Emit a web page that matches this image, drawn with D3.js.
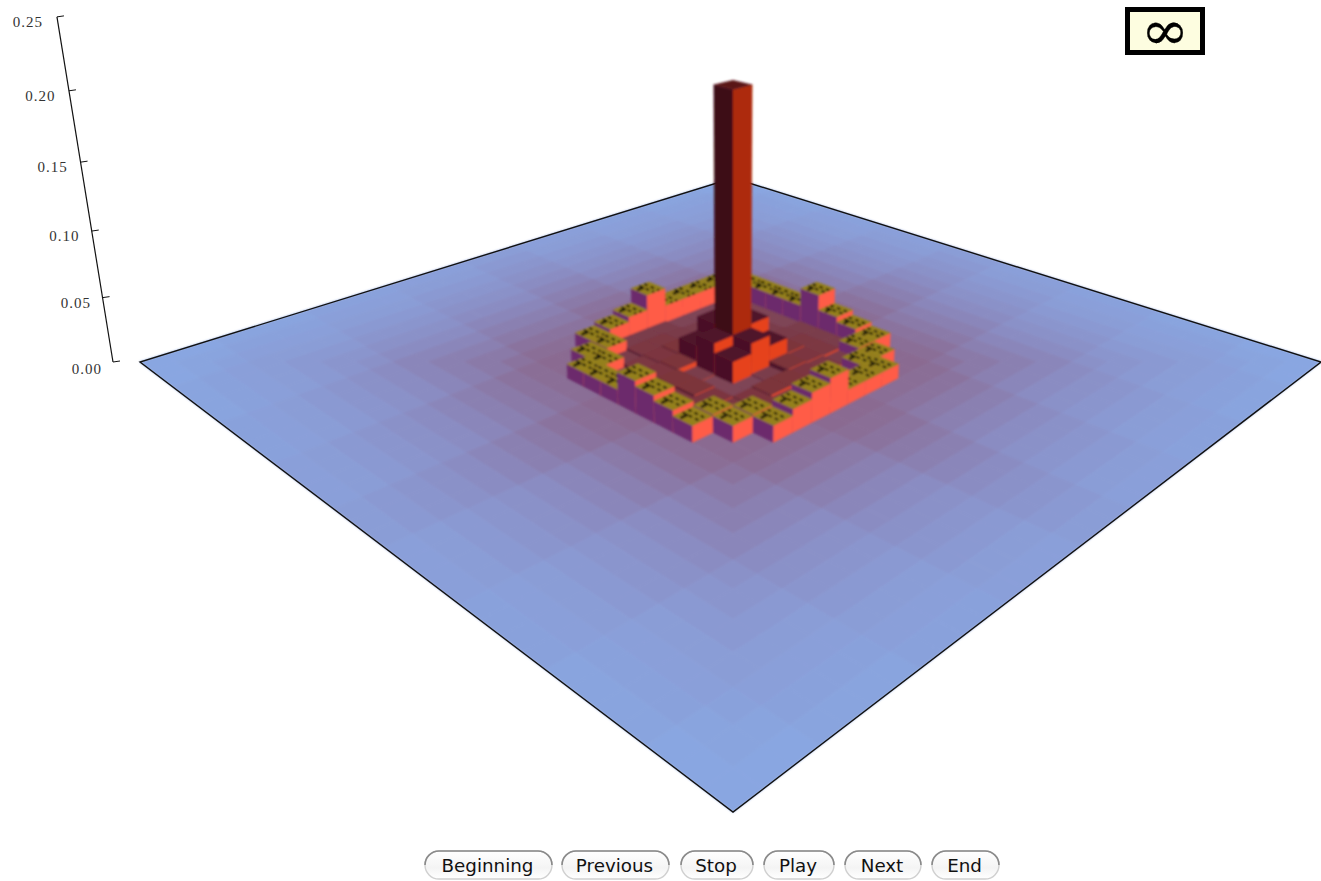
<!DOCTYPE html>
<html>
<head>
<meta charset="utf-8">
<script src="https://cdn.jsdelivr.net/npm/d3@7"></script>
<style>
  html, body { margin: 0; background: #fff; }
  svg { display: block; }
  .zlabel { font-family: "Liberation Serif", serif; font-size: 15px; letter-spacing: 1px; fill: #333; text-anchor: end; }
  .btnlabel { font-family: "DejaVu Sans", sans-serif; font-size: 18.3px; fill: #111; text-anchor: middle; }
</style>
</head>
<body>
<svg id="chart" width="1321" height="881"></svg>
<script>
// --- Data ---
const gridSize = 33;
const zTicks = [0, 0.05, 0.10, 0.15, 0.20, 0.25];

// floor level (x 1e-3) by stepped distance from the centre cell, 0..20
const floorLevels = [3.0, 3.0, 3.0, 3.0, 3.0, 2.7, 2.55, 2.4, 2.2, 1.95, 1.7, 1.45, 1.2, 1.0, 0.85, 0.68, 0.52, 0.4, 0.28, 0.16, 0.05];

// column heights (x 1e-3) for the middle block, i = -5..5 by row, j = -5..5 by column
const heightRows = [
  [ 0, 16, 16, 16, 16, 30, 18, 14, 11,  0,  0],
  [16,  2,  2,  2,  2,  3,  3,  3, 11, 10,  0],
  [16,  2,  3,  3,  3,  4,  5,  5,  3, 10, 11],
  [16,  2,  3,  5,  6,  6,  7,  6,  5,  2, 11],
  [16,  2,  3,  6, 30, 30, 19,  7,  6,  3, 11],
  [30,  3,  4,  6, 30,205, 27,  3,  7,  4, 24],
  [18,  3,  5,  7, 19, 27, 19,  2,  7,  5, 20],
  [14,  3,  5,  6,  7,  3,  2,  2,  6,  6, 16],
  [11, 11,  3,  5,  6,  7,  7,  6,  5, 13, 12],
  [ 0, 10, 10,  2,  3,  4,  5,  6, 13, 12,  0],
  [ 0,  0, 11, 11, 11, 26, 22, 17, 12,  0,  0]
];
const blockRadius = 5;

const buttonLabels = ["Beginning", "Previous", "Stop", "Play", "Next", "End"];
const buttonEdges = [[425, 552], [562, 669], [681, 753], [764, 834], [845, 921], [932, 999]];

// --- Layout constants ---
const corners = { top: [733, 178], right: [1321, 362], bottom: [733, 812], left: [140, 362] };
const zVanish = [733, 4180];
const axisFoot = [113, 362];
const zTopShift = -0.0829;   // w shift at the top of the z axis

// --- Projection: plane homography plus a vertical vanishing point ---
function quadHomography(p0, p1, p2, p3) {
  const dx1 = p1[0] - p2[0], dx2 = p3[0] - p2[0], sx = p0[0] - p1[0] + p2[0] - p3[0];
  const dy1 = p1[1] - p2[1], dy2 = p3[1] - p2[1], sy = p0[1] - p1[1] + p2[1] - p3[1];
  const det = dx1 * dy2 - dx2 * dy1;
  const g = (sx * dy2 - dx2 * sy) / det;
  const h = (dx1 * sy - sx * dy1) / det;
  return [p1[0] - p0[0] + g * p1[0], p3[0] - p0[0] + h * p3[0], p0[0],
          p1[1] - p0[1] + g * p1[1], p3[1] - p0[1] + h * p3[1], p0[1], g, h];
}

const H = quadHomography(corners.top, corners.right, corners.bottom, corners.left);
const half = gridSize / 2;
const u = d3.scaleLinear().domain([-half, half]).range([0, 1]);
const v = d3.scaleLinear().domain([-half, half]).range([0, 1]);
const wLeft = H[7] + 1;
const zShift = d3.scaleLinear().domain([0, 0.25]).range([0, zTopShift * wLeft]);

function project(i, j, z) {
  const a = u(i), b = v(j);
  const X = H[0] * a + H[1] * b + H[2];
  const Y = H[3] * a + H[4] * b + H[5];
  const W = H[6] * a + H[7] * b + 1;
  const k = zShift(z || 0);
  return [(X + k * zVanish[0]) / (W + k), (Y + k * zVanish[1]) / (W + k)];
}

function axisPoint(z) {
  const a = zTopShift * z / 0.25;
  return [(axisFoot[0] + a * zVanish[0]) / (1 + a), (axisFoot[1] + a * zVanish[1]) / (1 + a)];
}

// --- Colours ---
const floorColor = d3.scaleLinear()
  .domain([0, 0.6, 1.2, 1.8, 2.4, 3.0])
  .range(["#89a7e2", "#8a9bd4", "#8a8cc2", "#8a7eae", "#8a6e96", "#8a5f80"]);
const lowTop = d3.scaleLinear().domain([0, 3, 8]).range(["#85566e", "#7a3c4c", "#7c3236"]);
const lowRight = d3.scaleLinear().domain([0, 3, 8]).range(["#8a5066", "#c4442e", "#f04c2a"]);
const lowLeft = d3.scaleLinear().domain([0, 3, 8]).range(["#6e3a52", "#5a2438", "#4a1428"]);

function heightAt(i, j) {
  if (Math.abs(i) > blockRadius || Math.abs(j) > blockRadius) return 0;
  return heightRows[i + blockRadius][j + blockRadius];
}

function floorAt(i, j) {
  const a = Math.abs(i), b = Math.abs(j);
  const d = Math.round(Math.max(a, b) + 0.25 * Math.min(a, b));
  return floorLevels[Math.min(d, floorLevels.length - 1)];
}

function palette(i, j, h) {
  const ring = Math.max(Math.abs(i), Math.abs(j)) >= 3 && h >= 10;
  if (h > 100) return { top: "#5a1418", left: "#3d0a14", right: "#ad2a10", kind: "tower" };
  if (ring) return { top: "#94801c", left: "#6c2c6c", right: "#ff5c46", kind: "ring" };
  if (h >= 10) return { top: "#50162a", left: "#4a0e26", right: "#e6431f", kind: "step" };
  return { top: lowTop(h), left: lowLeft(h), right: lowRight(h), kind: "low" };
}

// --- SVG setup ---
const svg = d3.select("#chart");
const defs = svg.append("defs");
defs.append("filter").attr("id", "soft")
  .attr("x", "-5%").attr("y", "-5%").attr("width", "110%").attr("height", "110%")
  .append("feGaussianBlur").attr("stdDeviation", 0.8);
defs.append("filter").attr("id", "softFloor")
  .attr("x", "-2%").attr("y", "-2%").attr("width", "104%").attr("height", "104%")
  .append("feGaussianBlur").attr("stdDeviation", 0.9);
const btnGrad = defs.append("linearGradient").attr("id", "btnFill")
  .attr("x1", 0).attr("y1", 0).attr("x2", 0).attr("y2", 1);
btnGrad.append("stop").attr("offset", "0%").attr("stop-color", "#ffffff");
btnGrad.append("stop").attr("offset", "60%").attr("stop-color", "#f4f4f4");
btnGrad.append("stop").attr("offset", "100%").attr("stop-color", "#ffffff");

const polyPath = pts => "M" + pts.map(p => p[0].toFixed(2) + "," + p[1].toFixed(2)).join("L") + "Z";

// --- Floor ---
const range = d3.range(-Math.floor(half), Math.floor(half) + 1);
const floorCells = [];
range.forEach(i => range.forEach(j => floorCells.push({ i, j })));

const floorGroup = svg.append("g").attr("filter", "url(#softFloor)");
floorGroup.selectAll("path")
  .data(floorCells)
  .join("path")
  .attr("d", d => polyPath([
    project(d.i - .5, d.j - .5), project(d.i + .5, d.j - .5),
    project(d.i + .5, d.j + .5), project(d.i - .5, d.j + .5)]))
  .attr("fill", d => floorColor(floorAt(d.i, d.j)))
  .attr("stroke", d => floorColor(floorAt(d.i, d.j)))
  .attr("stroke-width", 1);

svg.append("path")
  .attr("d", polyPath([corners.top, corners.right, corners.bottom, corners.left]))
  .attr("fill", "none")
  .attr("stroke", "#111")
  .attr("stroke-width", 1.4);

// --- Columns, painted back to front ---
const columns = [];
d3.range(-blockRadius, blockRadius + 1).forEach(i => {
  d3.range(-blockRadius, blockRadius + 1).forEach(j => {
    const h = heightAt(i, j);
    if (h > 0) columns.push({ i, j, z: h / 1000, ...palette(i, j, h) });
  });
});
columns.sort((a, b) => (a.i + a.j) - (b.i + b.j));

const columnGroup = svg.append("g").attr("filter", "url(#soft)");
const colG = columnGroup.selectAll("g").data(columns).join("g");

colG.append("path")
  .attr("d", d => polyPath([
    project(d.i - .5, d.j + .5), project(d.i + .5, d.j + .5),
    project(d.i + .5, d.j + .5, d.z), project(d.i - .5, d.j + .5, d.z)]))
  .attr("fill", d => d.left).attr("stroke", d => d.left).attr("stroke-width", 0.4);
colG.append("path")
  .attr("d", d => polyPath([
    project(d.i + .5, d.j + .5), project(d.i + .5, d.j - .5),
    project(d.i + .5, d.j - .5, d.z), project(d.i + .5, d.j + .5, d.z)]))
  .attr("fill", d => d.right).attr("stroke", d => d.right).attr("stroke-width", 0.4);
colG.append("path")
  .attr("d", d => polyPath([
    project(d.i - .5, d.j - .5, d.z), project(d.i + .5, d.j - .5, d.z),
    project(d.i + .5, d.j + .5, d.z), project(d.i - .5, d.j + .5, d.z)]))
  .attr("fill", d => d.top).attr("stroke", d => d.top).attr("stroke-width", 0.4);

// dark hatch on the ring tops: two dotted rows and a short stem
const ringG = colG.filter(d => d.kind === "ring");
[-0.2, 0.08].forEach(off => {
  ringG.append("path")
    .attr("d", d => {
      const a = project(d.i - .42, d.j + off, d.z), b = project(d.i + .42, d.j + off, d.z);
      return "M" + a + "L" + b;
    })
    .attr("stroke", "#0c0a04").attr("stroke-width", 2).attr("stroke-linecap", "round")
    .attr("stroke-dasharray", "2 5").attr("fill", "none");
});
ringG.append("path")
  .attr("d", d => {
    const a = project(d.i - .2, d.j + .05, d.z), b = project(d.i - .2, d.j + .42, d.z);
    return "M" + a + "L" + b;
  })
  .attr("stroke", "#1a1408").attr("stroke-width", 2.6).attr("fill", "none");

// --- Z axis ---
const axisG = svg.append("g");
axisG.append("line")
  .attr("x1", axisPoint(0)[0]).attr("y1", axisPoint(0)[1])
  .attr("x2", axisPoint(0.25)[0]).attr("y2", axisPoint(0.25)[1])
  .attr("stroke", "#111").attr("stroke-width", 1.2);
const tickG = axisG.selectAll("g.tick").data(zTicks).join("g").attr("class", "tick")
  .attr("transform", d => `translate(${axisPoint(d)})`);
tickG.append("line").attr("x1", 0).attr("y1", 0).attr("x2", 7).attr("y2", -1)
  .attr("stroke", "#111").attr("stroke-width", 1);
tickG.append("text").attr("class", "zlabel")
  .attr("x", d => -11 - 3 * d / 0.25).attr("y", d => d === 0 ? 12 : 10)
  .text(d => d3.format(".2f")(d));

// --- Infinity box ---
const infG = svg.append("g");
infG.append("rect").attr("x", 1127.5).attr("y", 9.5).attr("width", 75).attr("height", 43)
  .attr("fill", "#fdfde0").attr("stroke", "#000").attr("stroke-width", 5);
infG.append("text").attr("x", 1141).attr("y", 49)
  .attr("font-family", "DejaVu Serif, serif").attr("font-size", 54).attr("fill", "#000")
  .attr("stroke", "#000").attr("stroke-width", 0.3)
  .attr("textLength", 48).attr("lengthAdjust", "spacingAndGlyphs")
  .text("∞");

// --- Buttons ---
const btn = svg.append("g").selectAll("g").data(buttonLabels).join("g");
const btnTop = 851, btnHeight = 28, btnR = 14;
btn.append("rect")
  .attr("x", (d, n) => buttonEdges[n][0]).attr("y", btnTop)
  .attr("width", (d, n) => buttonEdges[n][1] - buttonEdges[n][0]).attr("height", btnHeight)
  .attr("rx", btnR).attr("fill", "url(#btnFill)").attr("stroke", "#d0d0d0").attr("stroke-width", 1.4);
btn.append("path")
  .attr("d", (d, n) => {
    const [a, b] = buttonEdges[n];
    const mid = btnTop + btnR;
    return `M${b - btnR},${btnTop} L${a + btnR},${btnTop} A${btnR},${btnR} 0 0 0 ${a},${mid}` +
           `M${b - btnR},${btnTop} A${btnR},${btnR} 0 0 1 ${b},${mid}`;
  })
  .attr("fill", "none").attr("stroke", "#8a8a8a").attr("stroke-width", 1.6);
btn.append("text").attr("class", "btnlabel")
  .attr("x", (d, n) => (buttonEdges[n][0] + buttonEdges[n][1]) / 2 - 1)
  .attr("y", btnTop + 21)
  .text(d => d);
</script>
</body>
</html>
